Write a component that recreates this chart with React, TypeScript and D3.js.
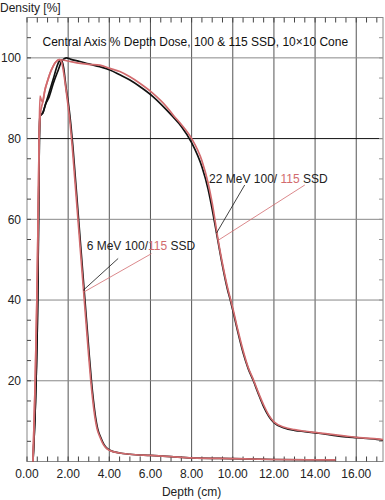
import * as d3 from 'd3';

const width = 385;
const height = 500;

// depth (cm) / relative dose (%)
const red6Depth = [0.29, 0.4, 0.48, 0.54, 0.59, 0.65, 0.76, 0.87, 1.0, 1.12, 1.25, 1.36, 1.47, 1.57, 1.68, 1.76, 1.9, 2.0, 2.1, 2.2, 2.3, 2.4, 2.5, 2.6, 2.7, 2.8, 2.9, 3.0, 3.1, 3.2, 3.3, 3.4, 3.55, 3.7, 3.85, 4.0, 4.5, 5.0, 6.0, 7.0, 8.0, 10.0, 12.0, 15.0];
const red6Dose = [0, 20, 40, 60, 80, 86, 89, 92, 94.3, 96.2, 97.7, 98.7, 99.3, 99.6, 99, 97, 92, 88, 83.5, 78, 71.5, 65, 58.5, 52, 45.5, 39, 32.5, 26, 20, 15, 11, 8.2, 6, 4.3, 3.3, 2.8, 2.1, 1.8, 1.5, 1.2, 0.9, 0.7, 0.5, 0.4];

const black6Depth = [0.29, 0.44, 0.52, 0.56, 0.6, 0.63, 0.78, 0.9, 1.08, 1.28, 1.45, 1.57, 1.67, 1.78, 1.9, 2.03, 2.13, 2.23, 2.33, 2.43, 2.53, 2.63, 2.73, 2.83, 2.93, 3.03, 3.13, 3.23, 3.33, 3.43, 3.58, 3.73, 3.88, 4.03, 4.5, 5.0, 6.0, 7.0, 8.0, 10.0, 12.0, 15.0];
const black6Dose = [0, 20, 40, 60, 80, 85.5, 86.5, 88.5, 91.5, 94.8, 97.8, 99.2, 99.5, 97.5, 92.5, 88, 83.5, 78, 71.5, 65, 58.5, 52, 45.5, 39, 32.5, 26, 20, 15, 11, 8.2, 6, 4.3, 3.3, 2.8, 2.1, 1.8, 1.5, 1.2, 0.9, 0.7, 0.5, 0.4];

const red22Depth = [0.29, 0.4, 0.48, 0.54, 0.59, 0.63, 0.68, 0.76, 0.87, 1.0, 1.12, 1.25, 1.36, 1.47, 1.57, 1.8, 2.09, 2.5, 3.0, 3.54, 4.03, 4.51, 5.0, 5.48, 6.12, 6.78, 7.09, 7.5, 8.0, 8.5, 8.8, 9.0, 9.29, 9.5, 9.75, 9.9, 10.0, 10.25, 10.5, 10.75, 11.0, 11.25, 11.5, 11.75, 12.0, 12.5, 13.0, 13.5, 14.0, 14.5, 15.0, 15.5, 16.0, 16.5, 17.0, 17.3];
const red22Dose = [0, 20, 40, 60, 80, 90.5, 89.8, 89, 92, 94.3, 96.2, 97.7, 98.7, 99.3, 99.6, 99.4, 99.1, 98.7, 98.4, 98.2, 97.4, 96.6, 95.3, 93.7, 91.2, 87.9, 85.9, 83.5, 80, 74.5, 69, 64, 54.8, 49, 43, 40, 38, 32.5, 27.5, 23.3, 20.3, 17, 14, 11.5, 9.8, 8.5, 7.9, 7.5, 7.2, 6.9, 6.6, 6.3, 6.0, 5.8, 5.6, 5.4];

const black22Depth = [0.29, 0.44, 0.52, 0.56, 0.6, 0.63, 0.78, 0.9, 1.08, 1.28, 1.52, 1.68, 1.93, 2.1, 2.57, 3.0, 3.54, 4.03, 4.51, 5.0, 5.48, 6.12, 6.78, 7.09, 7.5, 8.0, 8.5, 8.8, 9.0, 9.21, 9.5, 9.75, 9.88, 10.0, 10.25, 10.5, 10.75, 11.0, 11.25, 11.5, 11.75, 12.0, 12.5, 13.0, 13.5, 14.0, 14.5, 15.0, 15.5, 16.0, 16.5, 17.0, 17.3];
const black22Dose = [0, 20, 40, 60, 80, 85.5, 86.5, 88.5, 90.4, 93.7, 97, 99.1, 100, 99.7, 99.1, 98.5, 97.8, 97, 95.8, 94.5, 92.9, 90.4, 87.1, 85.4, 83, 79, 73, 67.5, 62.5, 56.6, 48.5, 42.5, 40, 37.5, 32, 27, 23, 20, 16.7, 13.6, 11.2, 9.6, 8.3, 7.7, 7.4, 7.1, 6.8, 6.4, 6.1, 5.9, 5.7, 5.5, 5.3];

const xTicks = [0, 2, 4, 6, 8, 10, 12, 14, 16];
const yTicks = [20, 40, 60, 80, 100];

const redColor = '#d26b6e';
const font = 'Liberation Sans, Arial, Helvetica, sans-serif';

const x = d3.scaleLinear().domain([0, 17.3]).range([27, 383]);
const y = d3.scaleLinear().domain([0, 110]).range([461.5, 17.5]);

const line = d3
  .line<[number, number]>()
  .x(d => x(d[0]))
  .y(d => y(d[1]))
  .curve(d3.curveMonotoneX);

const zip = (a: number[], b: number[]) => a.map((v, i) => [v, b[i]] as [number, number]);

const curves = [
  { pts: zip(black22Depth, black22Dose), color: '#111' },
  { pts: zip(black6Depth, black6Dose), color: '#111' },
  { pts: zip(red22Depth, red22Dose), color: redColor },
  { pts: zip(red6Depth, red6Dose), color: redColor },
];

// annotation: [labelDepth, labelDose] and leader lines [fromDepth, fromDose, toDepth, toDose]
const notes = [
  { label: [2.9, 52.4], energy: '6 MeV 100/', red: '115', tail: ' SSD', black: [4.43, 50.3, 2.73, 42.4], redLine: [6.05, 51.5, 2.77, 42] },
  { label: [8.85, 69], energy: '22 MeV 100/ ', red: '115', tail: ' SSD', black: [10.58, 68.5, 9.21, 56.6], redLine: [13.5, 68.5, 9.29, 54.8] },
];

const App = () => {
  const minorX = d3.range(0, 17.3, 0.5);
  const minorY = d3.range(5, 110, 5);
  return (
    <svg width={width} height={height} style={{ position: 'absolute', left: 0, top: 0, background: '#fff' }} fontFamily={font}>
      {/* gridlines */}
      {xTicks.slice(1).map(t => (
        <line key={'gx' + t} x1={x(t)} x2={x(t)} y1={y(110)} y2={y(0)} stroke="#555" strokeWidth={1} />
      ))}
      {yTicks.map(t => (
        <line key={'gy' + t} x1={x(0)} x2={x(17.3)} y1={y(t)} y2={y(t)} stroke={t === 80 ? '#111' : '#888'} strokeWidth={1} />
      ))}
      {/* frame */}
      <rect x={x(0)} y={y(110)} width={x(17.3) - x(0)} height={y(0) - y(110)} fill="none" stroke="#888" strokeWidth={1} />
      {/* minor ticks */}
      {minorX.map(t => (
        <g key={'mx' + t} stroke="#444">
          <line x1={x(t)} x2={x(t)} y1={y(0)} y2={y(0) - 5} />
          <line x1={x(t)} x2={x(t)} y1={y(110)} y2={y(110) + 5} />
        </g>
      ))}
      {minorY.map(t => (
        <g key={'my' + t} stroke="#444">
          <line x1={x(0)} x2={x(0) + 4} y1={y(t)} y2={y(t)} />
          <line x1={x(17.3)} x2={x(17.3) - 4} y1={y(t)} y2={y(t)} stroke="#999" />
        </g>
      ))}
      {/* tick labels */}
      {xTicks.map(t => (
        <text key={'lx' + t} x={x(t)} y={478} textAnchor="middle" fontSize={12} fill="#222">
          {t.toFixed(2)}
        </text>
      ))}
      {yTicks.map(t => (
        <text key={'ly' + t} x={21} y={y(t) + 4.3} textAnchor="end" fontSize={12} fill="#222">
          {t}
        </text>
      ))}
      <text x={0} y={11.5} fontSize={12} fill="#222">Density [%]</text>
      <text x={x(8)} y={496} textAnchor="middle" fontSize={12} fill="#222">Depth (cm)</text>
      <text x={42.5} y={46} fontSize={12} fill="#111">Central Axis % Depth Dose, 100 &amp; 115 SSD, 10×10 Cone</text>

      {/* curves */}
      {curves.map((c, i) => (
        <path key={i} d={line(c.pts) || ''} fill="none" stroke={c.color} strokeWidth={1.7} strokeLinejoin="round" />
      ))}

      {/* annotations */}
      {notes.map((n, i) => (
        <g key={'n' + i}>
          <line x1={x(n.black[0])} y1={y(n.black[1])} x2={x(n.black[2])} y2={y(n.black[3])} stroke="#111" strokeWidth={0.8} />
          <line x1={x(n.redLine[0])} y1={y(n.redLine[1])} x2={x(n.redLine[2])} y2={y(n.redLine[3])} stroke={redColor} strokeWidth={0.8} />
          <text x={x(n.label[0])} y={y(n.label[1])} fontSize={12} fill="#222" style={{ whiteSpace: 'pre' }}>
            {n.energy}
            <tspan fill={redColor}>{n.red}</tspan>
            {n.tail}
          </text>
        </g>
      ))}
    </svg>
  );
};

export default App;
